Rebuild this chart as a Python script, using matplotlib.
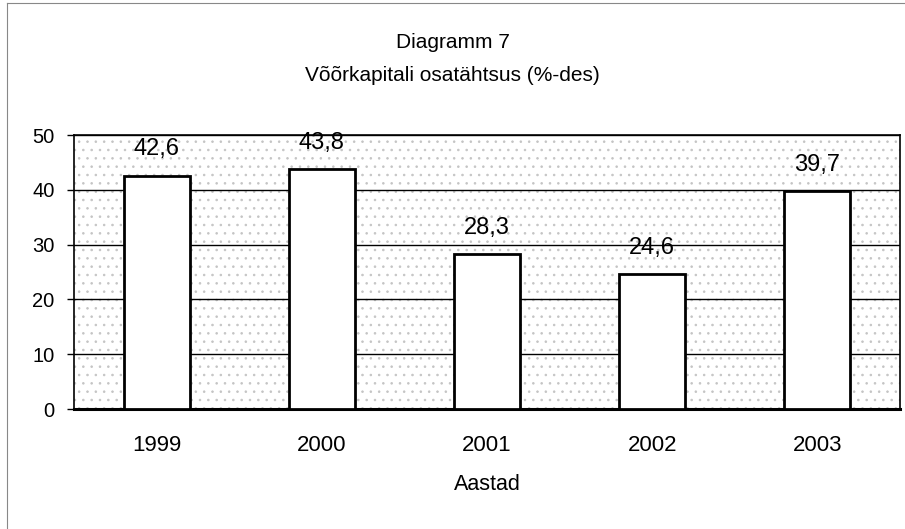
# Bar chart: share of borrowed capital by year (scanned Excel look)

import matplotlib.pyplot as plt
from matplotlib.patches import Rectangle

plt.rcParams["font.family"] = ["Liberation Sans", "DejaVu Sans"]
plt.rcParams["hatch.color"] = "#c4c4c4"
plt.rcParams["hatch.linewidth"] = 0.6

years = ["1999", "2000", "2001", "2002", "2003"]
values = [42.6, 43.8, 28.3, 24.6, 39.7]
value_labels = ["42,6", "43,8", "28,3", "24,6", "39,7"]

fig = plt.figure(figsize=(9.05, 5.29), dpi=100)
ax = fig.add_axes([0.0818, 0.2268, 0.9127, 0.518])

# speckled plot area, imitated with a light dotted hatch
ax.set_facecolor("white")
bg = Rectangle((0, 0), 1, 1, transform=ax.transAxes, facecolor="white",
               edgecolor="#c4c4c4", hatch="..", linewidth=0, zorder=0)
ax.add_patch(bg)

x = range(len(years))
ax.bar(x, values, width=0.4, color="white", edgecolor="black",
       linewidth=2, zorder=3)

for xi, v, lab in zip(x, values, value_labels):
    ax.annotate(lab, (xi, v), xytext=(0, 11), textcoords="offset points",
                ha="center", va="bottom", fontsize=17, zorder=4)

ax.set_xlim(-0.5, len(years) - 0.5)
ax.set_ylim(0, 50)
ax.set_yticks([0, 10, 20, 30, 40, 50])
ax.yaxis.grid(True, color="black", linewidth=1.0, zorder=1)
ax.set_axisbelow(True)

ax.set_xticks(list(x))
ax.set_xticklabels(years, fontsize=16)
ax.tick_params(axis="x", length=0, pad=19)
ax.tick_params(axis="y", length=5, width=1, pad=9, labelsize=14.5)

for side in ["top", "right", "left"]:
    ax.spines[side].set_linewidth(1.2)
ax.spines["bottom"].set_linewidth(2.2)

ax.set_xlabel("Aastad", fontsize=15.5, labelpad=13)

fig.text(0.5, 0.919, "Diagramm 7", ha="center", va="center", fontsize=15)
fig.text(0.5, 0.858, "Võõrkapitali osatähtsus (%-des)", ha="center",
         va="center", fontsize=15)

# thin outer chart-area border (left and top visible in the scan)
fig.add_artist(plt.Line2D([0.008, 0.008], [0.0, 0.994], color="#888888",
                          linewidth=0.8, transform=fig.transFigure))
fig.add_artist(plt.Line2D([0.008, 1.0], [0.994, 0.994], color="#888888",
                          linewidth=0.8, transform=fig.transFigure))

fig.savefig("out.png", dpi=100)
